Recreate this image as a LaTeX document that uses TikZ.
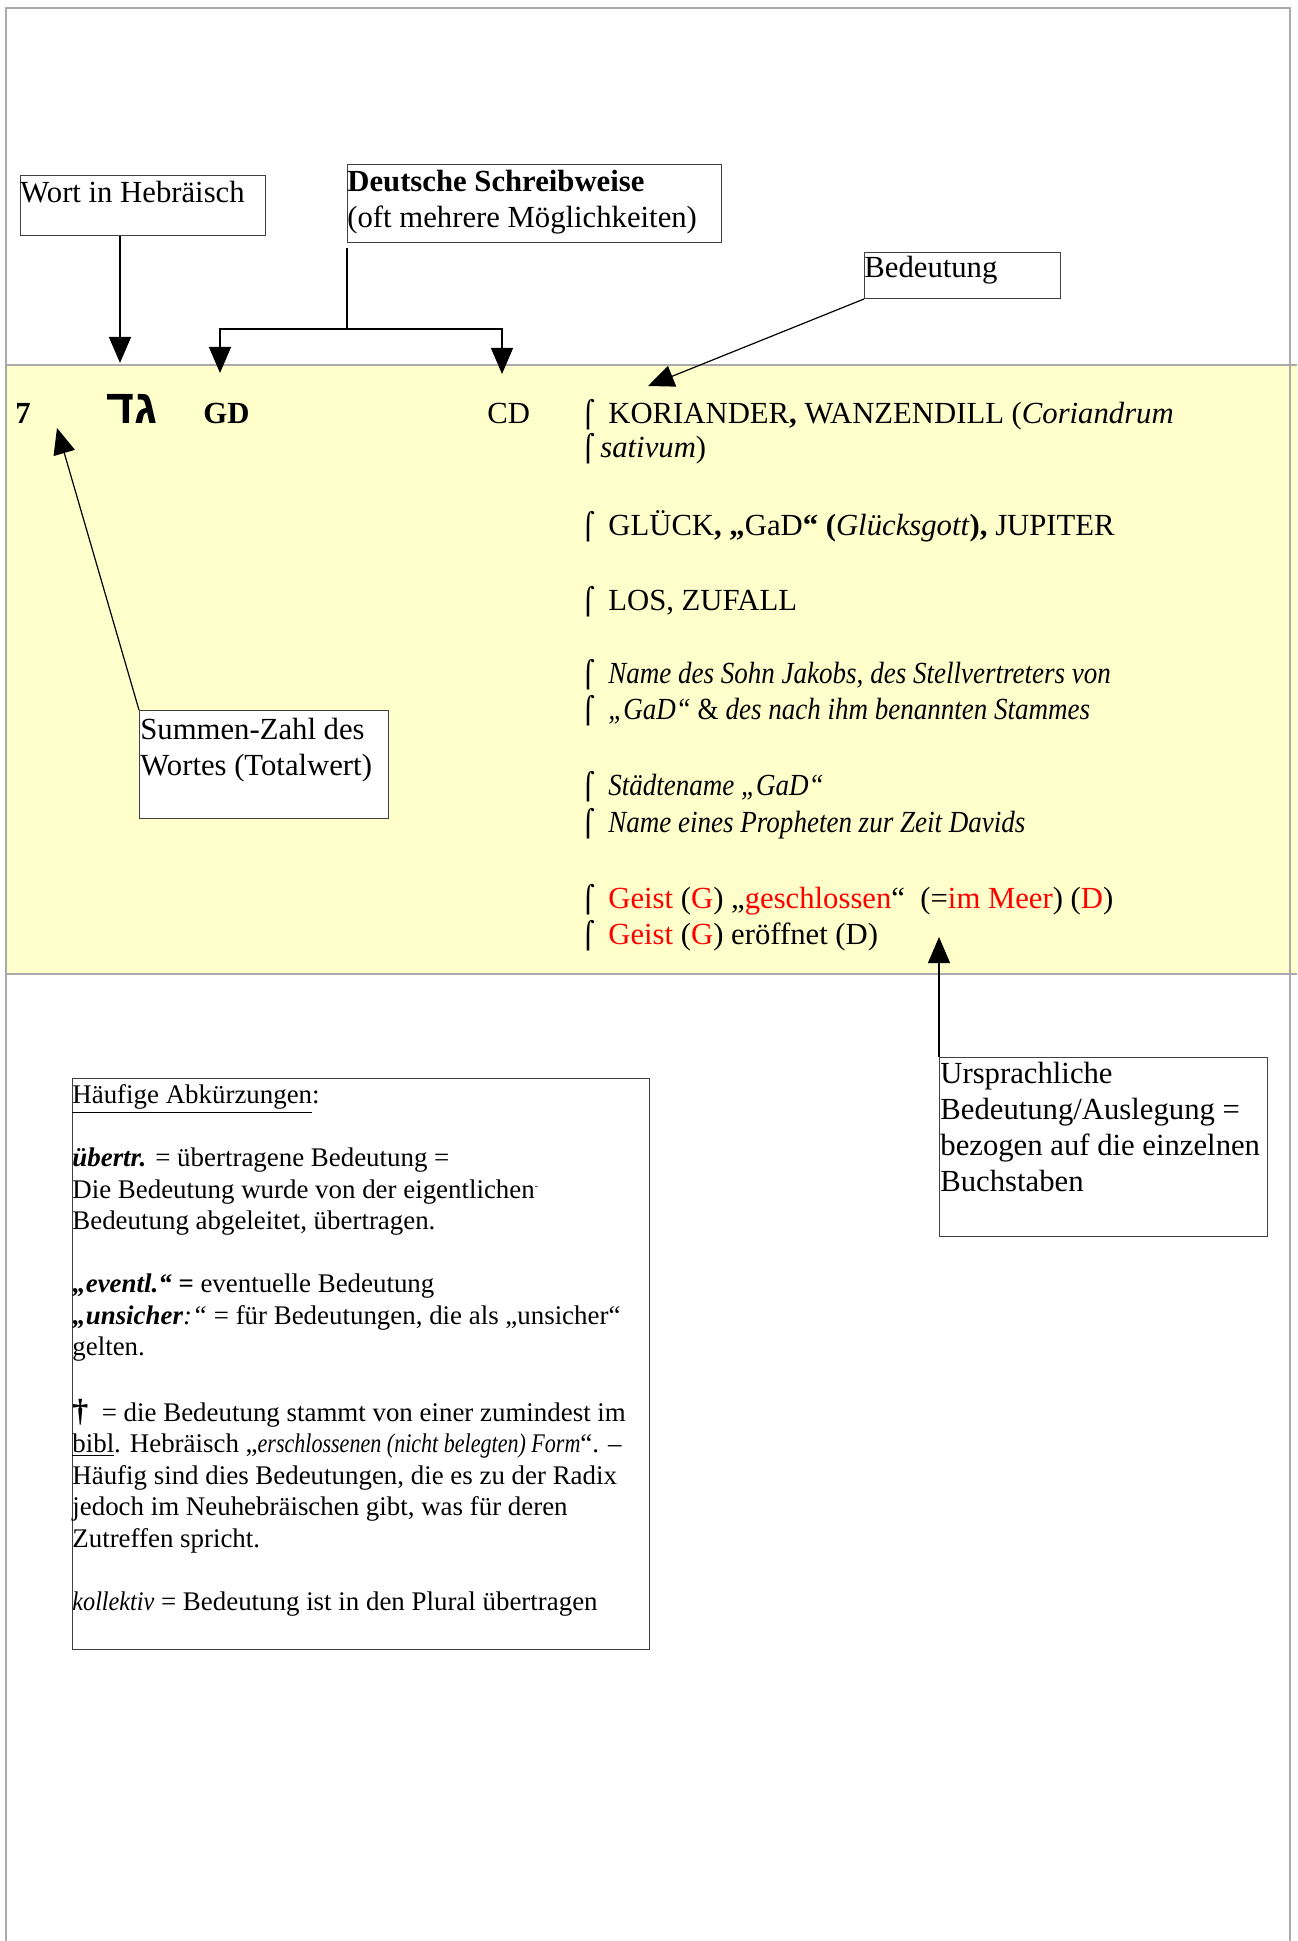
\documentclass[tikz,border=0pt]{standalone}
\usepackage{fontspec}
\setmainfont{Liberation Serif}
\newfontfamily\hebrewfont[Script=Hebrew]{Liberation Sans}
\newfontfamily\symfont{DejaVu Sans}
\TeXXeTstate=1
\usepackage{xcolor}
\usepackage{graphicx}
\usepackage{tikz}
\usetikzlibrary{arrows.meta}
\definecolor{bandyellow}{RGB}{255,255,204}
\definecolor{pagegray}{RGB}{170,170,170}
\newcommand{\mainsize}{\fontsize{15.35pt}{18pt}\selectfont}
\newcommand{\abksize}{\fontsize{13.45pt}{15.75pt}\selectfont}
\newcommand{\brk}[1][10pt]{\makebox[#1][l]{\hspace{-3.5pt}\symfont\fontsize{13pt}{13pt}\selectfont ⌠}}
\newcommand{\rd}[1]{\textcolor{red}{#1}}
\newcommand{\narrow}[2][0.88]{\scalebox{#1}[1]{#2}}
\tikzstyle{frame} = [draw=black!75, line width=0.5pt, inner sep=0pt, anchor=north west]
\tikzstyle{lbl} = [inner sep=0pt, anchor=base west, align=left, font=\mainsize]
\tikzstyle{arrow} = [line width=0.6pt, -{Triangle[length=13pt,width=11pt]}]

\begin{document}
\begin{tikzpicture}[x=0.5pt,y=-0.5pt]
	\useasboundingbox (0,0) rectangle (1297,1941);
	
	% yellow band with the example entry
	\fill[bandyellow] (6,365) rectangle (1297,974);
	\draw[pagegray, line width=0.6pt] (6,365) -- (1297,365);
	\draw[pagegray, line width=0.6pt] (6,974) -- (1297,974);
	% page frame
	\draw[pagegray, line width=0.6pt] (6,1941) -- (6,8) -- (1290,8) -- (1290,1941);
	
	% Entry:
	\node[lbl, font=\mainsize\bfseries] (num) at (15,423) {7};
	\node[lbl, font=\hebrewfont\bfseries\fontsize{24pt}{24pt}\selectfont] (heb) at (106,423) {\beginR גד\endR};
	\node[lbl, font=\mainsize\bfseries] (gd) at (203,423) {GD};
	\node[lbl] (cd) at (487,423) {CD};
	
	\node[lbl] (mean1) at (588,423) {\brk KORIANDER\textbf{,} WANZENDILL (\textit{Coriandrum}};
	\node[lbl] (mean2) at (588,458) {\brk[6pt]\textit{sativum})};
	\node[lbl] (mean3) at (588,535) {\brk GLÜCK\textbf{, „}GaD\textbf{“ (}\textit{Glücksgott}\textbf{),} JUPITER};
	\node[lbl] (mean4) at (588,610) {\brk LOS, ZUFALL};
	\node[lbl] (mean5) at (588,683) {\brk\narrow{\textit{Name des Sohn Jakobs, des Stellvertreters von}}};
	\node[lbl] (mean6) at (588,719) {\brk\narrow{\textit{„GaD“} \& \textit{des nach ihm benannten Stammes}}};
	\node[lbl] (mean7) at (588,795) {\brk\narrow{\textit{Städtename „GaD“}}};
	\node[lbl] (mean8) at (588,832) {\brk\narrow{\textit{Name eines Propheten zur Zeit Davids}}};
	\node[lbl] (mean9) at (588,908) {\brk\rd{Geist} (\rd{G}) „\rd{geschlossen}“~ (=\rd{im Meer}) (\rd{D})};
	\node[lbl] (mean10) at (588,944) {\brk\rd{Geist} (\rd{G}) eröffnet (D)};
	
	% Explanation boxes:
	% (multi-line labels sit on the baseline of their last line)
	\node[frame, minimum width=122.5pt, minimum height=30pt] (wortbox) at (20,175) {};
	\node[lbl] (worttxt) at (20,203) {Wort in Hebräisch};
	
	\node[frame, minimum width=187pt, minimum height=39pt] (deutschbox) at (347,164) {};
	\node[lbl] (deutschtxt) at (347,228) {\textbf{Deutsche Schreibweise}\\(oft mehrere Möglichkeiten)};
	
	\node[frame, minimum width=98pt, minimum height=23pt] (bedbox) at (864,252) {};
	\node[lbl] (bedtxt) at (864,278) {Bedeutung};
	
	\node[frame, fill=white, minimum width=124.5pt, minimum height=54pt] (summenbox) at (139,710) {};
	\node[lbl] (summentxt) at (140,775) {Summen-Zahl des\\Wortes (Totalwert)};
	
	\node[frame, minimum width=164pt, minimum height=89.5pt] (urbox) at (939,1057) {};
	\node[lbl] (urtxt) at (940,1191) {Ursprachliche\\Bedeutung/Auslegung =\\bezogen auf die einzelnen\\Buchstaben};
	
	\node[frame, minimum width=288.5pt, minimum height=285.5pt] (abkbox) at (72,1078) {};
	\node[lbl, font=\abksize] (abktxt) at (72,1610) {\underline{Häufige Abkürzungen}:\\[15.75pt]
		\textbf{\textit{übertr.}} = übertragene Bedeutung =\\
		Die Bedeutung wurde von der eigentlichen\raisebox{0.7ex}{\tiny -}\\
		Bedeutung abgeleitet, übertragen.\\[15.75pt]
		\textbf{\textit{„eventl.“ =}} eventuelle Bedeutung\\
		\textbf{\textit{„unsicher}}\textit{:“} = für Bedeutungen, die als „unsicher“\\
		gelten.\\[17pt]
		{\bfseries\fontsize{16pt}{16pt}\selectfont †}~ = die Bedeutung stammt von einer zumindest im\\
		\underline{bibl}. Hebräisch „\narrow[0.82]{\textit{erschlossenen (nicht belegten) Form}}“. –\\
		Häufig sind dies Bedeutungen, die es zu der Radix\\
		jedoch im Neuhebräischen gibt, was für deren\\
		Zutreffen spricht.\\[15.75pt]
		\narrow[0.9]{\textit{kollektiv}} = Bedeutung ist in den Plural übertragen};
	
	% Connectors:
	\coordinate (hebtip) at (120,363);
	\coordinate (dsplit) at (347,329);
	\coordinate (gdtip) at (220,373);
	\coordinate (cdtip) at (502,374);
	\coordinate (bedtip) at (648,386);
	\coordinate (numtip) at (57,428);
	\coordinate (urtip) at (939,937);
	
	\draw[arrow] (wortbox.south -| hebtip) -- (hebtip);
	\draw[line width=0.6pt, shorten <=2.5pt] (deutschbox.south west) -- (dsplit);
	\draw[arrow] (dsplit) -| (gdtip);
	\draw[arrow] (dsplit) -| (cdtip);
	\draw[arrow] (bedbox.south west) -- (bedtip);
	\draw[arrow] (summenbox.north west) -- (numtip);
	\draw[arrow] (urbox.north west) -- (urtip);
\end{tikzpicture}
\end{document}
